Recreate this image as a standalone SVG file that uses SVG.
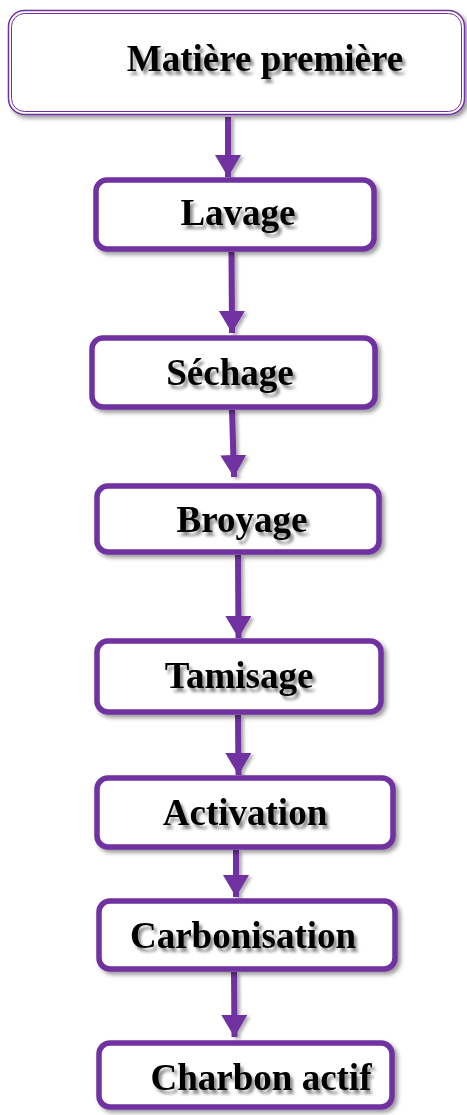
<svg xmlns="http://www.w3.org/2000/svg" width="467" height="1115" viewBox="0 0 467 1115">
<style>
.box{fill:#fff;stroke:#7030A0;stroke-width:5.5;filter:url(#bsh)}
.lbl{font-family:"Liberation Serif","Times New Roman",serif;font-weight:bold;font-size:37px;fill:#000;text-anchor:middle;filter:url(#tsh)}
.conn{stroke:#7030A0;stroke-width:6;fill:none;marker-end:url(#ah)}
</style>
<defs>
<filter id="bsh" x="-10%" y="-20%" width="125%" height="150%">
<feGaussianBlur in="SourceAlpha" stdDeviation="2.2"/>
<feOffset dx="3" dy="3" result="b"/>
<feFlood flood-color="#000" flood-opacity="0.4"/>
<feComposite in2="b" operator="in"/>
<feMerge><feMergeNode/><feMergeNode in="SourceGraphic"/></feMerge>
</filter>
<filter id="tsh" x="-10%" y="-30%" width="125%" height="170%">
<feGaussianBlur in="SourceAlpha" stdDeviation="1.8"/>
<feOffset dx="3" dy="4" result="b"/>
<feFlood flood-color="#000" flood-opacity="0.45"/>
<feComposite in2="b" operator="in"/>
<feMerge><feMergeNode/><feMergeNode in="SourceGraphic"/></feMerge>
</filter>
<filter id="ash" filterUnits="userSpaceOnUse" x="0" y="0" width="467" height="1115">
<feGaussianBlur in="SourceAlpha" stdDeviation="1.5"/>
<feOffset dx="3" dy="2" result="b"/>
<feFlood flood-color="#000" flood-opacity="0.3"/>
<feComposite in2="b" operator="in"/>
<feMerge><feMergeNode/><feMergeNode in="SourceGraphic"/></feMerge>
</filter>
<marker id="ah" markerUnits="userSpaceOnUse" markerWidth="26" markerHeight="28" refX="22" refY="13" orient="auto">
<path d="M0,0 L22,13 L0,26 Z" fill="#7030A0"/>
</marker>
</defs>

<g id="connectors" filter="url(#ash)">
<line class="conn" x1="228" y1="117" x2="228" y2="177"/>
<line class="conn" x1="231.5" y1="252" x2="232" y2="333"/>
<line class="conn" x1="232" y1="410" x2="234" y2="477"/>
<line class="conn" x1="238" y1="555" x2="238.5" y2="638"/>
<line class="conn" x1="238" y1="715" x2="238.5" y2="775"/>
<line class="conn" x1="236" y1="850" x2="236" y2="897"/>
<line class="conn" x1="234" y1="972" x2="234.5" y2="1037"/>
</g>

<g id="n-matiere">
<rect x="8.5" y="10.5" width="456" height="104" rx="16" fill="#fff" stroke="#7030A0" stroke-width="1.5" filter="url(#bsh)"/>
<rect x="11.5" y="13.5" width="450" height="98" rx="13" fill="none" stroke="#7030A0" stroke-width="1"/>
<text class="lbl" x="265" y="71">Matière première</text>
</g>

<g id="n-lavage">
<rect class="box" x="96" y="180" width="278" height="69" rx="11"/>
<text class="lbl" x="238" y="225">Lavage</text>
</g>

<g id="n-sechage">
<rect class="box" x="92" y="338" width="283" height="69" rx="11"/>
<text class="lbl" x="230" y="385">Séchage</text>
</g>

<g id="n-broyage">
<rect class="box" x="97" y="486" width="282" height="66" rx="11"/>
<text class="lbl" x="242" y="532">Broyage</text>
</g>

<g id="n-tamisage">
<rect class="box" x="97" y="641" width="284" height="71" rx="11"/>
<text class="lbl" x="239" y="688">Tamisage</text>
</g>

<g id="n-activation">
<rect class="box" x="97" y="778" width="296" height="69" rx="11"/>
<text class="lbl" x="245" y="825">Activation</text>
</g>

<g id="n-carbonisation">
<rect class="box" x="99" y="901" width="296" height="68" rx="11"/>
<text class="lbl" x="243" y="948">Carbonisation</text>
</g>

<g id="n-charbon">
<rect class="box" x="99" y="1043" width="293" height="64" rx="11"/>
<text class="lbl" x="261" y="1090">Charbon actif</text>
</g>
</svg>
